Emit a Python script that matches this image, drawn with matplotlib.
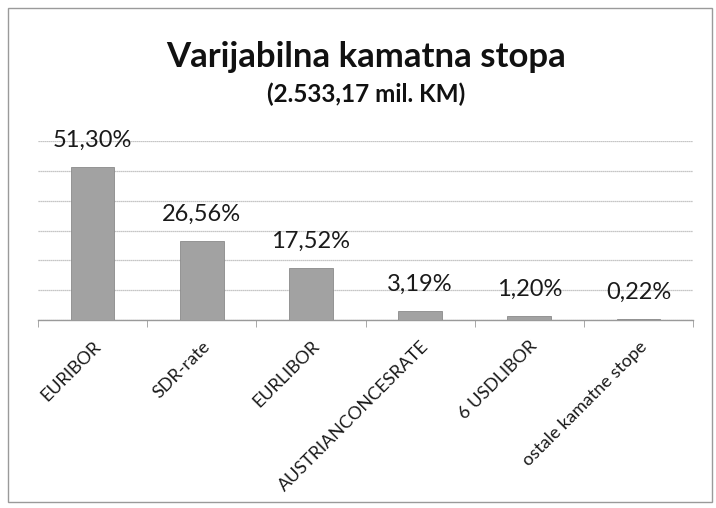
import matplotlib
matplotlib.use("Agg")
import matplotlib.pyplot as plt
from matplotlib.patches import Rectangle
import numpy as np

categories = ["EURIBOR", "SDR-rate", "EURLIBOR", "AUSTRIANCONCESRATE", "6 USDLIBOR", "ostale kamatne stope"]
values = [51.30, 26.56, 17.52, 3.19, 1.20, 0.22]
labels = ["51,30%", "26,56%", "17,52%", "3,19%", "1,20%", "0,22%"]
title = "Varijabilna kamatna stopa"
subtitle = "(2.533,17 mil. KM)"

plt.rcParams['font.family'] = ['Lato', 'DejaVu Sans']

fig = plt.figure(figsize=(7.16, 5.08), dpi=100)
fig.patch.set_facecolor('white')
# outer border
fig.add_artist(Rectangle((0.011, 0.012), 0.984, 0.972, transform=fig.transFigure,
                         fill=False, edgecolor='#9a9a9a', lw=1.0))

ax = fig.add_axes([0.053, 0.370, 0.915, 0.352])
x = np.arange(len(categories))
ax.bar(x, values, width=0.40, color='#a2a2a2', edgecolor='#8a8a8a', linewidth=0.6, zorder=3)
ax.set_xlim(-0.5, len(categories) - 0.5)
ax.set_ylim(0, 60)
ax.set_yticks(np.arange(0, 61, 10))
ax.yaxis.grid(True, color='#b4b4b4', linewidth=0.9, linestyle=(0, (1, 0.6)), zorder=0)
ax.tick_params(axis='y', left=False, labelleft=False)
for s in ['left', 'right', 'top']:
    ax.spines[s].set_visible(False)
ax.spines['bottom'].set_color('#9a9a9a')
ax.spines['bottom'].set_linewidth(1.0)
ax.set_xticks(x)
ax.set_xticklabels(categories, rotation=45, ha='right', va='top', rotation_mode='anchor', fontsize=13,
                   color='#1a1a1a')
ax.tick_params(axis='x', which='major', length=0, pad=13)
ax.set_xticks(np.arange(-0.5, len(categories), 1.0), minor=True)
ax.tick_params(axis='x', which='minor', length=5, color='#9a9a9a', direction='out')

for xi, v, lab in zip(x, values, labels):
    ax.annotate(lab, (xi, v), xytext=(0, 14.5), textcoords='offset points',
                ha='center', va='baseline', fontsize=17, color='#1a1a1a', zorder=4)

fig.text(0.511, 0.868, title, ha='center', va='baseline', fontsize=25, fontweight='bold', color='#111111')
fig.text(0.511, 0.799, subtitle, ha='center', va='baseline', fontsize=17.5, fontweight='bold', color='#111111')

fig.savefig('out.png', dpi=100, facecolor='white')
